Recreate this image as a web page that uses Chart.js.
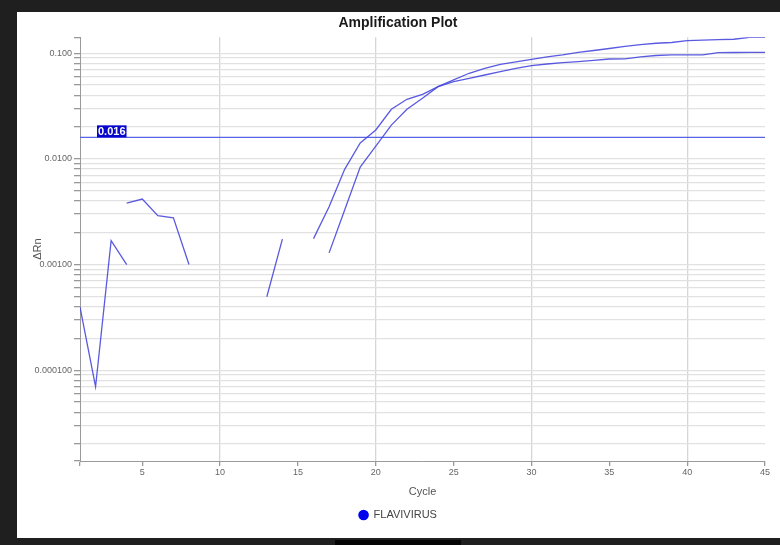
<!DOCTYPE html>
<html>
<head>
<meta charset="utf-8">
<script src="https://cdn.jsdelivr.net/npm/chart.js@4/dist/chart.umd.min.js"></script>
<style>
  html, body { margin: 0; padding: 0; }
  body { width: 780px; height: 545px; background: #1f1f1f; position: relative; overflow: hidden; }
  #panel { position: absolute; left: 17px; top: 12px; width: 763px; height: 526px; background: #ffffff; }
  #notch { position: absolute; left: 335px; top: 540px; width: 126px; height: 5px; background: #050505; }
  canvas { display: block; }
</style>
</head>
<body>
<div id="panel"><canvas id="c" width="763" height="526"></canvas></div>
<div id="notch"></div>
<script>
// ---- data ----
const cycles = [1,2,3,4,5,6,7,8,9,10,11,12,13,14,15,16,17,18,19,20,21,22,23,24,25,26,27,28,29,30,31,32,33,34,35,36,37,38,39,40,41,42,43,44,45];

const wellA = [3.96e-4, 6.97e-5, 1.68e-3, 1.00e-3, null, null, null, null, null, null, null, null,
  4.95e-4, 1.74e-3, null, 1.76e-3, 3.52e-3, 7.97e-3, 0.01415, 0.01879, 0.0295, 0.0367, 0.0409, 0.0483,
  0.0538, 0.0580, 0.0623, 0.0670, 0.0718, 0.0763, 0.0792, 0.0815, 0.0832, 0.0855, 0.0883, 0.0887,
  0.0923, 0.0953, 0.0965, 0.0965, 0.0965, 0.1013, 0.1017, 0.1022, 0.1022];

const wellB = [null, null, null, 3.82e-3, 4.17e-3, 2.90e-3, 2.77e-3, 1.00e-3, null, null, null, null,
  null, null, null, null, 1.29e-3, 3.28e-3, 8.38e-3, 0.0132, 0.0209, 0.0295, 0.0375, 0.0483,
  0.0559, 0.0647, 0.0721, 0.0787, 0.0828, 0.0877, 0.0923, 0.0964, 0.1020, 0.1063, 0.1110, 0.1160,
  0.1210, 0.1244, 0.1265, 0.1316, 0.1330, 0.1345, 0.1358, 0.1417, 0.1417];

const threshold = [0.016];
const thresholdLabel = ['0.016'];
const targetName = ['FLAVIVIRUS'];
const xTickValues = [1,5,10,15,20,25,30,35,40,45];
const xGridValues = [10,20,30,40];
const yMajorTicks = [0.0001, 0.001, 0.01, 0.1];
const yRange = [1.38e-5, 0.1417];

// ---- build ----
const FONT = '"Liberation Sans", Arial, sans-serif';
const lineColor = 'rgba(72,72,222,0.9)';
const toPts = arr => cycles.map((c, i) => ({x: c, y: arr[i]}));

function buildLogTicks(min, max) {
  const t = [min];
  const e0 = Math.floor(Math.log10(min)), e1 = Math.ceil(Math.log10(max));
  for (let e = e0; e <= e1; e++) {
    for (let k = 1; k <= 9; k++) {
      const v = Number((k * Math.pow(10, e)).toPrecision(6));
      if (v > min * 1.0001 && v < max * 0.9999) t.push(v);
    }
  }
  t.push(max);
  return t.map(v => ({value: v}));
}
const isMajorY = v => yMajorTicks.some(m => Math.abs(v - m) / m < 1e-6);

const thresholdTag = {
  id: 'thresholdTag',
  afterDatasetsDraw(chart) {
    const {ctx, chartArea, scales} = chart;
    const y = scales.y.getPixelForValue(threshold[0]);
    const x = chartArea.left + 17;
    ctx.save();
    ctx.font = 'bold 11px ' + FONT;
    const w = ctx.measureText(thresholdLabel[0]).width + 2;
    ctx.fillStyle = '#0606cf';
    ctx.fillRect(x, y - 12, w, 12);
    ctx.fillStyle = '#ffffff';
    ctx.textBaseline = 'middle';
    ctx.fillText(thresholdLabel[0], x + 1, y - 5.5);
    ctx.restore();
  }
};

new Chart(document.getElementById('c'), {
  type: 'line',
  data: {
    datasets: [
      { label: targetName[0] + ' A', data: toPts(wellA), borderColor: lineColor, borderWidth: 1.3, pointRadius: 0, tension: 0, spanGaps: false },
      { label: targetName[0] + ' B', data: toPts(wellB), borderColor: lineColor, borderWidth: 1.3, pointRadius: 0, tension: 0, spanGaps: false },
      { label: 'Threshold', data: [{x: cycles[0], y: threshold[0]}, {x: cycles[cycles.length - 1], y: threshold[0]}],
        borderColor: 'rgba(80,92,228,0.95)', borderWidth: 1.4, pointRadius: 0, tension: 0 }
    ]
  },
  options: {
    responsive: false,
    animation: false,
    devicePixelRatio: 1,
    layout: { padding: { left: 14, right: 15, top: 0, bottom: 7.5 } },
    plugins: {
      tooltip: { enabled: false },
      title: {
        display: true, text: 'Amplification Plot', color: '#1a1a1a',
        font: { family: FONT, size: 14, weight: 'bold' },
        padding: { top: 2.5, bottom: 6 }
      },
      legend: {
        display: true, position: 'bottom',
        labels: {
          usePointStyle: true, boxWidth: 9, boxHeight: 7.5, padding: 6.5,
          color: '#444', font: { family: FONT, size: 11 },
          generateLabels: () => [{ text: targetName[0], fillStyle: '#0000ee', strokeStyle: '#0000ee', lineWidth: 0,
            pointStyle: 'circle', hidden: false, datasetIndex: 0, fontColor: '#444' }]
        }
      }
    },
    scales: {
      x: {
        type: 'linear', min: cycles[0], max: cycles[cycles.length - 1],
        afterBuildTicks: s => { s.ticks = xTickValues.map(v => ({value: v})); },
        afterFit: s => { s.height = 42; },
        ticks: { color: '#666', font: { family: FONT, size: 9 }, padding: 1, maxRotation: 0, autoSkip: false,
          callback: v => (v === cycles[0] ? '' : String(v)) },
        grid: {
          color: c => (c.tick && xGridValues.includes(c.tick.value) ? '#d6d6d6' : 'rgba(0,0,0,0)'),
          tickColor: '#9a9a9a', tickLength: 5, lineWidth: 1.3
        },
        border: { color: '#9a9a9a', width: 1 },
        title: { display: true, text: 'Cycle', color: '#555', font: { family: FONT, size: 11 }, padding: { top: 0, bottom: 4.4 } }
      },
      y: {
        type: 'logarithmic', min: yRange[0], max: yRange[1],
        afterBuildTicks: s => { s.ticks = buildLogTicks(yRange[0], yRange[1]); },
        afterFit: s => { s.width = 49; },
        ticks: { color: '#666', font: { family: FONT, size: 9 }, padding: 2, autoSkip: false,
          callback: v => (isMajorY(v) ? Number(v).toPrecision(3) : '') },
        grid: {
          color: c => {
            if (!c.tick) return 'rgba(0,0,0,0)';
            const v = c.tick.value;
            if (v === yRange[0] || v === yRange[1]) return 'rgba(0,0,0,0)';
            return '#e1e1e1';
          },
          tickColor: '#9a9a9a', tickLength: 6, lineWidth: 1.3
        },
        border: { color: '#9a9a9a', width: 1 },
        title: { display: true, text: 'ΔRn', color: '#555', font: { family: FONT, size: 11 }, padding: { top: 0, bottom: 0 } }
      }
    }
  },
  plugins: [thresholdTag]
});
</script>
</body>
</html>
